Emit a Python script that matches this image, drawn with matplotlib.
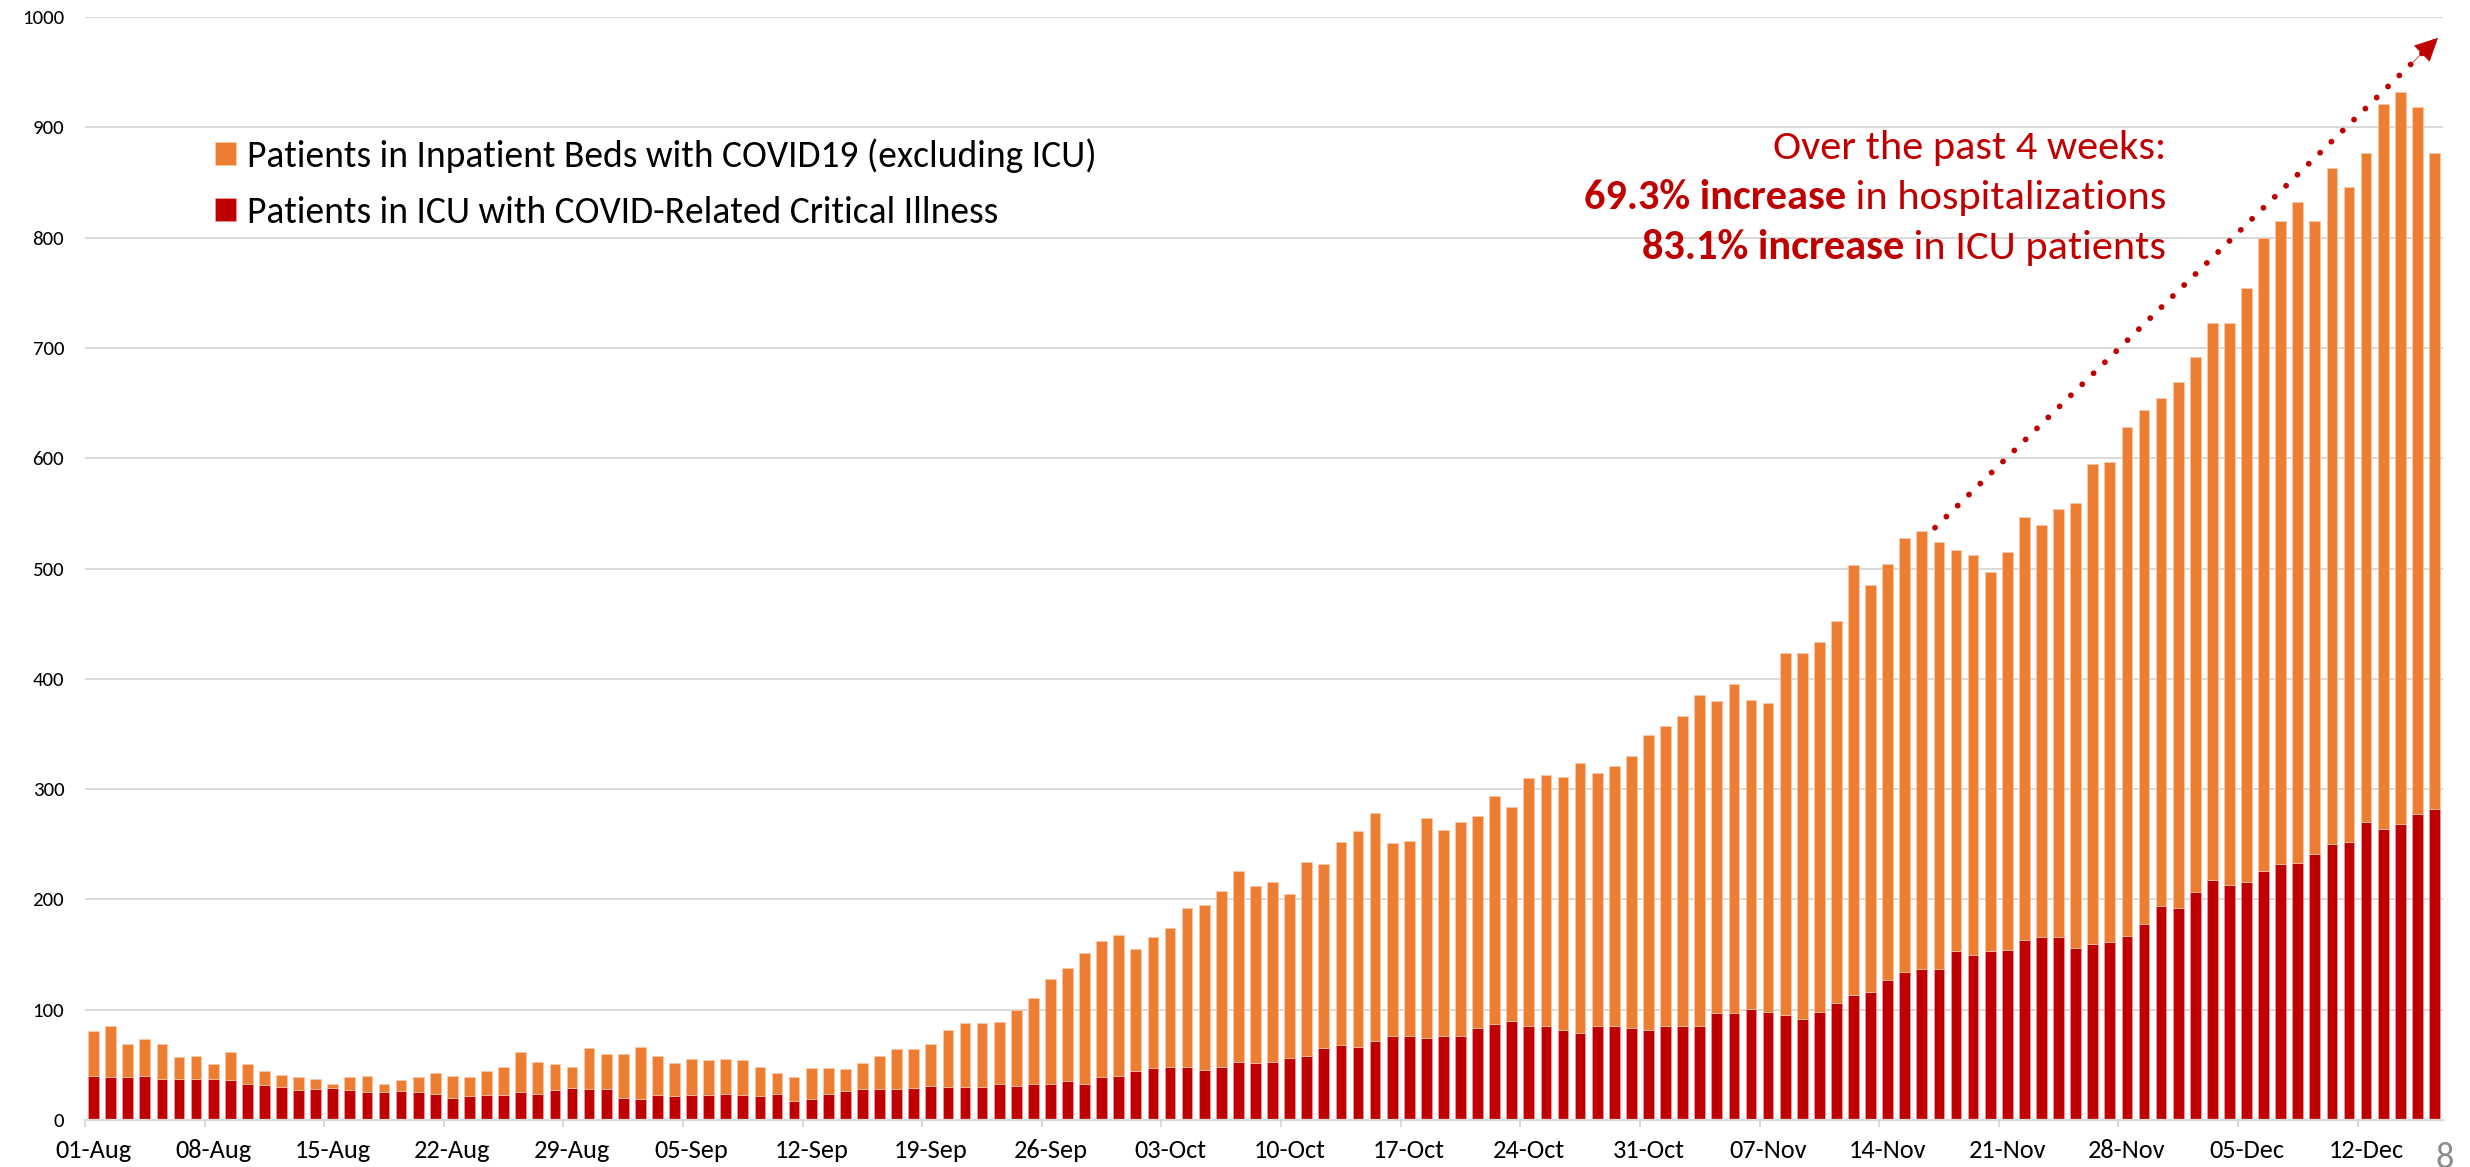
import matplotlib
matplotlib.use("Agg")
import matplotlib.pyplot as plt
import numpy as np
import pandas as pd
from matplotlib import font_manager

# ---------------- data ----------------
dates = pd.date_range("2020-08-01", "2020-12-16", freq="D")

total_aug = [81, 85, 69, 73, 69, 57, 58, 51, 62, 51, 44, 41, 39, 37, 33, 39, 40, 33, 36, 39,
             43, 40, 39, 44, 48, 62, 53, 51, 48, 65, 60]
total_sep = [60, 66, 58, 52, 55, 54, 55, 54, 48, 43, 39, 47, 47, 46, 52, 58, 64, 64, 69, 82,
             88, 88, 89, 100, 111, 128, 138, 151, 162, 168]
total_oct = [155, 166, 174, 192, 195, 208, 226, 212, 216, 205, 234, 232, 252, 262, 278, 251,
             253, 274, 263, 270, 276, 294, 284, 310, 313, 311, 324, 315, 321, 330, 349]
total_nov = [357, 366, 385, 380, 395, 381, 378, 423, 423, 433, 452, 503, 485, 504, 528, 534,
             524, 517, 512, 497, 515, 547, 539, 554, 559, 595, 597, 628, 644, 655]
total_dec = [669, 692, 723, 723, 754, 800, 815, 832, 815, 863, 846, 877, 921, 932, 918, 877]

icu_aug = [40, 39, 39, 40, 37, 37, 37, 37, 36, 33, 32, 30, 27, 28, 29, 27, 25, 25, 26, 25,
           24, 20, 22, 23, 23, 25, 24, 27, 29, 28, 28]
icu_sep = [20, 19, 23, 22, 23, 23, 24, 23, 22, 24, 17, 19, 24, 26, 28, 28, 28, 29, 31, 30,
           30, 30, 33, 31, 33, 33, 35, 33, 39, 40]
icu_oct = [44, 47, 48, 48, 45, 48, 53, 52, 53, 56, 58, 65, 68, 66, 72, 76, 76, 74, 76, 76,
           83, 87, 90, 85, 85, 82, 79, 85, 85, 83, 82]
icu_nov = [85, 85, 85, 97, 97, 101, 98, 95, 92, 98, 106, 113, 116, 127, 134, 137, 137, 153,
           150, 153, 154, 163, 166, 166, 156, 160, 161, 167, 178, 194]
icu_dec = [192, 207, 218, 213, 216, 226, 232, 233, 241, 250, 252, 270, 264, 268, 277, 282]

total_hosp = np.array(total_aug + total_sep + total_oct + total_nov + total_dec)
icu = np.array(icu_aug + icu_sep + icu_oct + icu_nov + icu_dec)
inpatient = total_hosp - icu

labels = [d.strftime("%d-%b") for d in dates]
series_names = ["Patients in Inpatient Beds with COVID19 (excluding ICU)",
                "Patients in ICU with COVID-Related Critical Illness"]
note_lines = ["Over the past 4 weeks:",
              ("69.3% increase", " in hospitalizations"),
              ("83.1% increase", " in ICU patients")]

# ---------------- style ----------------
avail = {f.name for f in font_manager.fontManager.ttflist}
def pick(*names):
    for n in names:
        if n in avail:
            return n
    return "DejaVu Sans"

FONT = pick("Carlito", "Lato", "Open Sans", "DejaVu Sans")
plt.rcParams["font.family"] = [FONT, "DejaVu Sans"]

ORANGE = "#ED7D31"
RED = "#C00000"
GRID = "#D9D9D9"

W, H = 2470, 1167
fig = plt.figure(figsize=(W / 100, H / 100), dpi=100)
fig.patch.set_facecolor("white")

def fx(px):
    return px / W
def fy(py):
    return 1 - py / H

ax = fig.add_axes([fx(85), fy(1120), fx(2443) - fx(85), fy(17) - fy(1120)])

x = np.arange(len(dates))
bw = 0.63
ax.bar(x, icu, width=bw, color=RED, edgecolor="#E8A0A0", linewidth=0.5,
       label=series_names[1], zorder=3)
ax.bar(x, inpatient, bottom=icu, width=bw, color=ORANGE, edgecolor="#F8CBAD",
       linewidth=0.5, label=series_names[0], zorder=3)

ax.set_xlim(-0.5, len(dates) - 0.5)
ax.set_ylim(0, 1000)
ax.set_yticks(np.arange(0, 1001, 100))
ax.yaxis.grid(True, color=GRID, linewidth=1.4)
ax.set_axisbelow(True)
for s in ["left", "right", "top"]:
    ax.spines[s].set_visible(False)
ax.spines["bottom"].set_color(GRID)
ax.spines["bottom"].set_linewidth(1.6)
ax.spines["bottom"].set_zorder(4)

ax.tick_params(axis="y", length=0, pad=15, labelsize=15, labelcolor="#000000")
ax.set_xticks(x[::7])
ax.set_xticklabels(labels[::7])
ax.set_xticks(x[::7] - 0.5, minor=True)
ax.tick_params(axis="x", which="major", length=0, pad=14, labelsize=19)
ax.tick_params(axis="x", which="minor", length=5, width=1.4, color=GRID)

# legend (orange first)
h, l = ax.get_legend_handles_labels()
leg = ax.legend(h[::-1], l[::-1], loc="upper left", frameon=False,
                bbox_to_anchor=(fx(215), fy(138)), bbox_transform=fig.transFigure,
                fontsize=27, handlelength=0.55, handleheight=0.55, handletextpad=0.3,
                labelspacing=0.62, borderpad=0, borderaxespad=0)

# annotation text (right aligned)
fig.canvas.draw()
rend = fig.canvas.get_renderer()
xr = fx(2166)
FS = 30.5
fig.text(xr, fy(159), note_lines[0], ha="right", va="baseline", fontsize=FS, color=RED)
for (bold, reg), base in zip(note_lines[1:], [209, 259]):
    t = fig.text(xr, fy(base), reg, ha="right", va="baseline", fontsize=FS, color=RED)
    wpx = t.get_window_extent(rend).width
    fig.text(xr - wpx / W, fy(base), bold, ha="right", va="baseline", fontsize=FS,
             color=RED, fontweight="bold")

# dotted trend arrow starting at the mid-November peak
i0 = 107
start = (i0 + 0.77, total_hosp[i0] + 3)
tip = (137.2, 981)
ax.plot([start[0], tip[0]], [start[1], tip[1]], color=RED, lw=4.2,
        linestyle=(0, (0.01, 2.7)), dash_capstyle="round", zorder=5)
back = (tip[0] - (tip[0] - start[0]) * 0.05, tip[1] - (tip[1] - start[1]) * 0.05)
ax.annotate("", xy=tip, xytext=back,
            arrowprops=dict(arrowstyle="-|>,head_length=1.1,head_width=0.55",
                            lw=0.5, color=RED, mutation_scale=14,
                            shrinkA=0, shrinkB=0),
            zorder=6)

# page number (partly cut off at the bottom edge, as in the slide)
fig.text(fx(2445), fy(1168), "8", ha="center", va="baseline", fontsize=26, color="#8C8C8C")

fig.savefig("out.png", dpi=100, facecolor="white")
